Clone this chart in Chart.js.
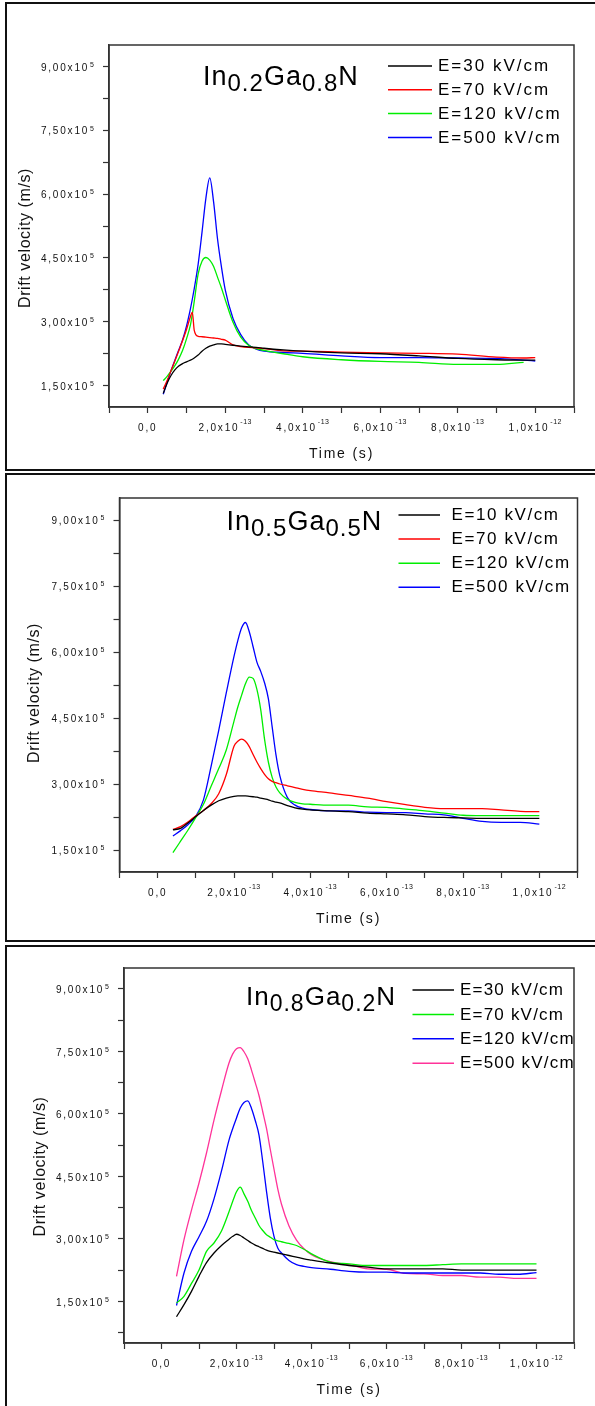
<!DOCTYPE html>
<html>
<head>
<meta charset="utf-8">
<script src="https://cdn.jsdelivr.net/npm/chart.js@4.4.0/dist/chart.umd.min.js"></script>
<style>
  html, body { margin: 0; padding: 0; background: #fff; }
  body { width: 595px; height: 1406px; position: relative; overflow: hidden; }
  .frame { position: absolute; left: 5px; width: 600px; border: 2px solid #111; box-sizing: border-box; }
  canvas { position: absolute; left: 0; }
</style>
</head>
<body>
<div class="frame" style="top:2px;height:469px"></div>
<div class="frame" style="top:473px;height:469px"></div>
<div class="frame" style="top:945px;height:470px"></div>
<canvas id="c1" width="595" height="470" style="top:0px;width:595px;height:470px"></canvas>
<canvas id="c2" width="595" height="470" style="top:472px;width:595px;height:470px"></canvas>
<canvas id="c3" width="595" height="463" style="top:943px;width:595px;height:463px"></canvas>
<script>
// time in units of 1e-13 s, drift velocity in units of 1e5 m/s

// --- In0.2Ga0.8N ---
const time1 = [0.4,0.5,0.6,0.7,0.8,0.9,1.0,1.1,1.15,1.2,1.3,1.4,1.5,1.6,1.7,1.8,1.9,2.0,2.2,2.4,2.6,2.8,3.0,3.5,4.0,5.0,6.0,7.0,8.0,9.0,9.7,10.0];
const v1_30  = [1.32,1.56,1.74,1.87,1.96,2.02,2.06,2.10,2.12,2.15,2.22,2.31,2.38,2.43,2.46,2.48,2.48,2.47,2.45,2.43,2.41,2.40,2.38,2.34,2.31,2.27,2.25,2.20,2.14,2.11,2.10,2.10];
const v1_70  = [1.42,1.62,1.85,2.08,2.32,2.56,2.82,3.12,3.23,2.80,2.66,2.65,2.64,2.63,2.62,2.61,2.59,2.57,2.46,2.42,2.40,2.39,2.37,2.32,2.31,2.29,2.27,2.26,2.24,2.17,2.15,2.16];
const v1_120 = [1.62,1.72,1.84,1.97,2.13,2.33,2.60,2.92,3.18,3.48,4.12,4.42,4.51,4.45,4.30,4.05,3.80,3.52,2.99,2.64,2.45,2.37,2.33,2.25,2.18,2.11,2.07,2.05,2.00,2.00,2.05,null];
const v1_500 = [1.30,1.58,1.85,2.10,2.34,2.58,2.90,3.30,3.53,3.78,4.35,5.10,5.90,6.38,5.81,4.95,4.30,3.75,3.08,2.70,2.46,2.36,2.31,2.28,2.26,2.20,2.16,2.16,2.15,2.14,2.10,2.08];
const legend1 = ['E=30 kV/cm', 'E=70 kV/cm', 'E=120 kV/cm', 'E=500 kV/cm'];
const title1 = ['In', '0.2', 'Ga', '0.8', 'N'];

// --- In0.5Ga0.5N ---
const time2 = [0.4,0.6,0.8,1.0,1.2,1.4,1.6,1.8,2.0,2.1,2.2,2.3,2.4,2.5,2.6,2.7,2.8,2.9,3.0,3.1,3.2,3.4,3.6,3.8,4.0,4.5,5.0,5.5,6.0,6.5,7.0,7.5,8.0,8.5,9.0,9.5,10.0];
const v2_10  = [1.96,1.99,2.12,2.26,2.40,2.52,2.62,2.68,2.72,2.73,2.73,2.73,2.72,2.71,2.70,2.68,2.66,2.64,2.61,2.59,2.57,2.51,2.46,2.43,2.41,2.39,2.37,2.34,2.32,2.30,2.26,2.24,2.23,2.22,2.22,2.22,2.22];
const v2_70  = [1.97,2.03,2.14,2.28,2.40,2.55,2.78,3.22,3.86,3.97,4.02,3.97,3.85,3.67,3.50,3.35,3.22,3.12,3.06,3.03,3.00,2.96,2.92,2.88,2.85,2.80,2.74,2.68,2.60,2.53,2.47,2.44,2.44,2.44,2.41,2.38,2.37];
const v2_120 = [1.44,1.70,1.96,2.24,2.54,2.95,3.35,3.78,4.43,4.75,5.02,5.28,5.43,5.40,5.15,4.69,4.02,3.50,3.15,2.93,2.80,2.65,2.58,2.55,2.54,2.52,2.52,2.48,2.47,2.43,2.39,2.34,2.29,2.28,2.28,2.28,2.28];
const v2_500 = [1.82,1.94,2.08,2.27,2.64,3.40,4.22,5.08,5.90,6.26,6.55,6.67,6.46,6.12,5.77,5.56,5.30,4.94,4.30,3.66,3.19,2.69,2.52,2.45,2.42,2.39,2.39,2.36,2.35,2.35,2.32,2.30,2.22,2.15,2.13,2.13,2.09];
const legend2 = ['E=10 kV/cm', 'E=70 kV/cm', 'E=120 kV/cm', 'E=500 kV/cm'];
const title2 = ['In', '0.5', 'Ga', '0.5', 'N'];

// --- In0.8Ga0.2N ---
const time3 = [0.4,0.6,0.8,1.0,1.2,1.4,1.6,1.8,1.9,2.0,2.1,2.2,2.3,2.4,2.5,2.6,2.7,2.8,2.9,3.0,3.1,3.2,3.4,3.6,3.8,4.0,4.5,5.0,5.5,6.0,6.5,7.0,7.5,8.0,8.5,9.0,9.5,10.0];
const v3_30  = [1.13,1.42,1.74,2.10,2.43,2.66,2.84,2.99,3.06,3.11,3.08,3.02,2.96,2.90,2.85,2.81,2.77,2.73,2.70,2.68,2.66,2.64,2.60,2.56,2.52,2.49,2.42,2.36,2.32,2.28,2.28,2.28,2.28,2.25,2.25,2.25,2.25,2.25];
const v3_70  = [1.46,1.62,1.93,2.25,2.70,2.90,3.19,3.65,3.90,4.13,4.24,4.08,3.90,3.68,3.50,3.32,3.20,3.10,3.04,2.98,2.95,2.93,2.89,2.84,2.75,2.64,2.44,2.40,2.36,2.36,2.36,2.36,2.38,2.40,2.40,2.40,2.40,2.40];
const v3_120 = [1.40,2.18,2.70,3.05,3.42,3.96,4.63,5.37,5.65,5.90,6.14,6.27,6.31,6.13,5.84,5.49,4.85,4.14,3.51,3.06,2.78,2.66,2.48,2.38,2.34,2.31,2.27,2.22,2.20,2.20,2.18,2.18,2.18,2.18,2.18,2.15,2.15,2.19];
const v3_500 = [2.10,2.98,3.69,4.34,5.06,5.85,6.56,7.22,7.44,7.56,7.59,7.49,7.32,7.05,6.75,6.44,6.05,5.65,5.15,4.67,4.20,3.83,3.31,2.97,2.76,2.62,2.45,2.38,2.28,2.27,2.17,2.16,2.12,2.12,2.08,2.08,2.05,2.05];
const legend3 = ['E=30 kV/cm', 'E=70 kV/cm', 'E=120 kV/cm', 'E=500 kV/cm'];
const title3 = ['In', '0.8', 'Ga', '0.2', 'N'];

// axis ticks
const yTickValues = [1.5, 3.0, 4.5, 6.0, 7.5, 9.0];
const yTickLabels = ['1,50x10', '3,00x10', '4,50x10', '6,00x10', '7,50x10', '9,00x10'];
const yTickExp = '5';
const xTickValues = [0, 2, 4, 6, 8, 10];
const xTickLabels = ['0,0', '2,0x10', '4,0x10', '6,0x10', '8,0x10', '1,0x10'];
const xTickExps = ['', '-13', '-13', '-13', '-13', '-12'];

const FONT = '"Liberation Sans", Arial, sans-serif';
const colors1 = ['#000000', '#ff0000', '#00ee00', '#0000ff'];
const colors3 = ['#000000', '#00ee00', '#0000ff', '#ff3399'];

// layout of each panel, in page pixels
const panels = [
    {
        id: 'c1', top: 0, height: 470,
        plot: { l: 109, r: 574, t: 45, b: 407 }, yMin: 1.0, yMax: 9.5,
        time: time1, series: [v1_30, v1_70, v1_120, v1_500], labels: legend1, colors: colors1,
        title: { parts: title1, x: 203, y: 85, size: 27, sub: 24 },
        legend: { x1: 388, x2: 432, tx: 438, y0: 66, dy: 23.8, spacing: 2 },
        yTitle: { x: 26, shift: 12 }
    },
    {
        id: 'c2', top: 472, height: 470,
        plot: { l: 119.5, r: 577.5, t: 498, b: 872 }, yMin: 1.0, yMax: 9.5,
        time: time2, series: [v2_10, v2_70, v2_120, v2_500], labels: legend2, colors: colors1,
        title: { parts: title2, x: 226.5, y: 530, size: 27, sub: 24 },
        legend: { x1: 398.5, x2: 440, tx: 451.5, y0: 515, dy: 24.1, spacing: 1.6 },
        yTitle: { x: 35, shift: 8 }
    },
    {
        id: 'c3', top: 943, height: 463,
        plot: { l: 124, r: 574, t: 968, b: 1343 }, yMin: 0.5, yMax: 9.5,
        time: time3, series: [v3_30, v3_70, v3_120, v3_500], labels: legend3, colors: colors3,
        title: { parts: title3, x: 246, y: 1005, size: 26, sub: 23 },
        legend: { x1: 412.5, x2: 454, tx: 460, y0: 990, dy: 24.4, spacing: 1.2 },
        yTitle: { x: 41, shift: 11 }
    }
];

function stepTicks(min, max, step) {
    const out = [];
    for (let k = Math.ceil(min / step - 1e-9); k * step <= max + 1e-9; k++) {
        out.push({ value: +(k * step).toFixed(4) });
    }
    return out;
}

function textWidth(ctx, text, font, spacing) {
    ctx.font = font;
    ctx.letterSpacing = spacing + 'px';
    const w = ctx.measureText(text).width;
    ctx.letterSpacing = '0px';
    return w;
}

function drawText(ctx, text, x, y, font, spacing) {
    ctx.font = font;
    ctx.letterSpacing = spacing + 'px';
    ctx.fillText(text, x, y);
    ctx.letterSpacing = '0px';
}

// Draws the frame, tick labels with exponents, axis titles, formula and legend
function makeTextPlugin(p) {
    return {
        id: 'panelText',
        afterDraw(chart) {
            const { ctx, chartArea: a, scales: { x, y } } = chart;
            const top = p.top;
            ctx.save();

            // plot frame
            ctx.strokeStyle = '#333';
            ctx.lineWidth = 1.5;
            ctx.strokeRect(a.left, a.top, a.right - a.left, a.bottom - a.top);

            ctx.fillStyle = '#111';
            ctx.textAlign = 'left';
            ctx.textBaseline = 'middle';
            const baseFont = '10px ' + FONT;
            const expFont = '7px ' + FONT;

            // y tick labels
            yTickValues.forEach((v, i) => {
                const py = y.getPixelForValue(v);
                const wb = textWidth(ctx, yTickLabels[i], baseFont, 1.8);
                const we = textWidth(ctx, yTickExp, expFont, 0);
                const xe = a.left - 15 - we;
                drawText(ctx, yTickLabels[i], xe - 1 - wb, py + 1.5, baseFont, 1.8);
                drawText(ctx, yTickExp, xe, py - 1.5, expFont, 0);
            });

            // x tick labels
            xTickValues.forEach((v, i) => {
                const px = x.getPixelForValue(v);
                const wb = textWidth(ctx, xTickLabels[i], baseFont, 1.8);
                const we = xTickExps[i] ? textWidth(ctx, xTickExps[i], expFont, 0.5) + 1 : 0;
                const x0 = px - (wb + we) / 2;
                drawText(ctx, xTickLabels[i], x0, a.bottom + 21, baseFont, 1.8);
                if (xTickExps[i]) drawText(ctx, xTickExps[i], x0 + wb + 1, a.bottom + 15.5, expFont, 0.5);
            });

            // axis titles
            ctx.fillStyle = '#111';
            const xtFont = '14px ' + FONT;
            const xtw = textWidth(ctx, 'Time (s)', xtFont, 1.8);
            drawText(ctx, 'Time (s)', (a.left + a.right) / 2 - xtw / 2, a.bottom + 47, xtFont, 1.8);

            const ytFont = '16px ' + FONT;
            const ytw = textWidth(ctx, 'Drift velocity (m/s)', ytFont, 0.6);
            ctx.save();
            ctx.translate(p.yTitle.x, (a.top + a.bottom) / 2 + p.yTitle.shift);
            ctx.rotate(-Math.PI / 2);
            drawText(ctx, 'Drift velocity (m/s)', -ytw / 2, 0, ytFont, 0.6);
            ctx.restore();

            // formula title, digits lowered
            ctx.fillStyle = '#000';
            ctx.textBaseline = 'alphabetic';
            let tx = p.title.x;
            p.title.parts.forEach((part, i) => {
                const low = i % 2 === 1;
                const f = (low ? p.title.sub : p.title.size) + 'px ' + FONT;
                drawText(ctx, part, tx, p.title.y - top + (low ? 6 : 0), f, 1);
                tx += textWidth(ctx, part, f, 1);
            });

            // legend
            ctx.textBaseline = 'middle';
            const lg = p.legend;
            chart.data.datasets.forEach((ds, i) => {
                const ly = lg.y0 - top + i * lg.dy;
                ctx.strokeStyle = ds.borderColor;
                ctx.lineWidth = 1.5;
                ctx.beginPath();
                ctx.moveTo(lg.x1, ly);
                ctx.lineTo(lg.x2, ly);
                ctx.stroke();
                ctx.fillStyle = '#000';
                drawText(ctx, ds.label, lg.tx, ly + 0.5, '17px ' + FONT, lg.spacing);
            });

            ctx.restore();
        }
    };
}

panels.forEach(p => {
    const H = p.height;
    const ctx = document.getElementById(p.id).getContext('2d');
    new Chart(ctx, {
        type: 'line',
        data: {
            datasets: p.series.map((vals, i) => ({
                label: p.labels[i],
                data: p.time.map((t, j) => ({ x: t, y: vals[j] })),
                borderColor: p.colors[i],
                borderWidth: 1.3,
                pointRadius: 0,
                cubicInterpolationMode: 'monotone',
                fill: false
            }))
        },
        options: {
            responsive: false,
            animation: false,
            devicePixelRatio: 1,
            events: [],
            layout: {
                padding: { left: 0, top: p.plot.t - p.top, right: 595 - p.plot.r, bottom: 0 }
            },
            plugins: {
                legend: { display: false },
                tooltip: { enabled: false }
            },
            scales: {
                x: {
                    type: 'linear',
                    min: -1,
                    max: 11,
                    afterBuildTicks: s => { s.ticks = stepTicks(-1, 11, 1); },
                    afterFit: s => { s.height = H - (p.plot.b - p.top); },
                    ticks: { display: false },
                    grid: { drawOnChartArea: false, drawTicks: true, tickLength: 6, tickColor: '#333', tickWidth: 1.2 },
                    border: { display: true, color: '#333', width: 1.5 }
                },
                y: {
                    type: 'linear',
                    min: p.yMin,
                    max: p.yMax,
                    afterBuildTicks: s => { s.ticks = stepTicks(p.yMin, p.yMax, 0.75); },
                    afterFit: s => { s.width = p.plot.l; },
                    ticks: { display: false },
                    grid: { drawOnChartArea: false, drawTicks: true, tickLength: 6, tickColor: '#333', tickWidth: 1.2 },
                    border: { display: true, color: '#333', width: 1.5 }
                }
            }
        },
        plugins: [makeTextPlugin(p)]
    });
});
</script>
</body>
</html>
